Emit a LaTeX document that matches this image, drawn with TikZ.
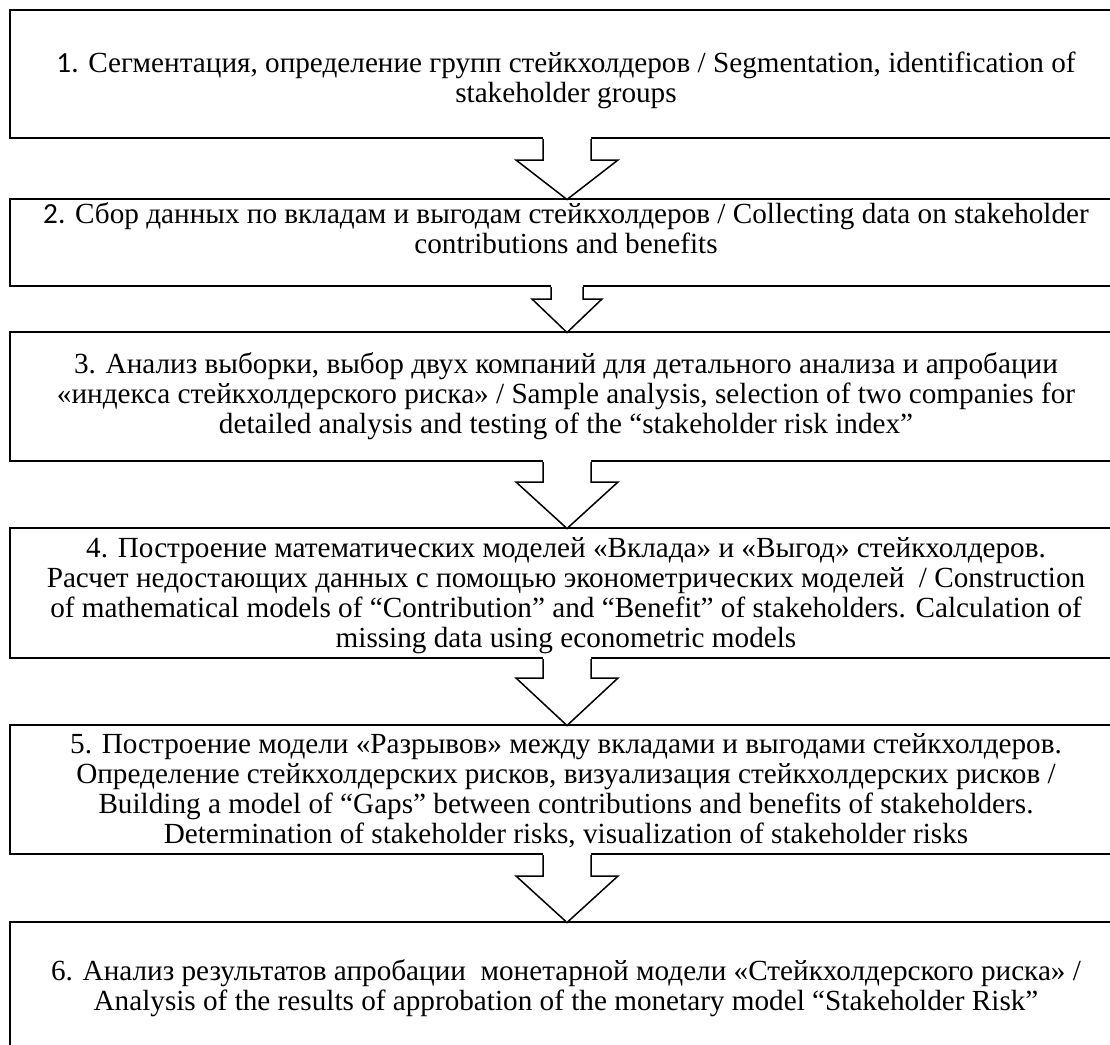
\documentclass[tikz,border=0pt]{standalone}
\usepackage{fontspec}
\setmainfont{Liberation Serif}
\newfontfamily\numfont{Carlito}
\usetikzlibrary{calc}
\tikzset{
  stepbox/.style={draw=black, line width=1pt, fill=white, minimum width=557pt, inner sep=0pt},
  steptext/.style={align=center, inner sep=0pt, font=\fontsize{14.6}{15}\selectfont},
  arrline/.style={draw=black, line width=0.75pt, line join=miter}
}
\newcommand{\blockarr}[5]{%
  \coordinate (#1-#2-s) at (#1.south);
  \coordinate (#1-#2-t) at ($(#2.north)+(0,1.5)$);
  \fill[white] ($(#1-#2-s)+(-#3,-3)$) -- ($(#1-#2-s)+(-#3,#5)$) -- ($(#1-#2-s)+(-#4,#5)$) -- (#1-#2-t) -- ($(#1-#2-s)+(#4,#5)$) -- ($(#1-#2-s)+(#3,#5)$) -- ($(#1-#2-s)+(#3,-3)$) -- cycle;
  \draw[arrline] ($(#1-#2-s)+(-#3,0)$) -- ($(#1-#2-s)+(-#3,#5)$) -- ($(#1-#2-s)+(-#4,#5)$) -- (#1-#2-t) -- ($(#1-#2-s)+(#4,#5)$) -- ($(#1-#2-s)+(#3,#5)$) -- ($(#1-#2-s)+(#3,0)$);
}
\begin{document}
\begin{tikzpicture}[x=0.5pt, y=-0.5pt]
\fill[white] (0,0) rectangle (1110,1045);
\useasboundingbox (0,0) rectangle (1110,1045);
\clip (0,0) rectangle (1110,1045);
% boxes
\node[stepbox, minimum height=64pt] (b1) at (567,74) {};
\node[stepbox, minimum height=43.5pt] (b2) at (567,242.5) {};
\node[stepbox, minimum height=64.5pt] (b3) at (567,396.5) {};
\node[stepbox, minimum height=65pt] (b4) at (567,593) {};
\node[stepbox, minimum height=64.5pt] (b5) at (567,789.5) {};
\node[stepbox, minimum height=100pt] (b6) at (567,1022) {};
% texts
\node[steptext] (t1) at (566,80) {{\numfont 1.} Сегментация, определение групп стейкхолдеров / Segmentation, identification of\\ stakeholder groups};
\node[steptext] (t2) at (566,228) {{\numfont 2.} Сбор данных по вкладам и выгодам стейкхолдеров / Collecting data on stakeholder\\ contributions and benefits};
\node[steptext] (t3) at (566,396) {3. Анализ выборки, выбор двух компаний для детального анализа и апробации\\ «индекса стейкхолдерского риска» / Sample analysis, selection of two companies for\\ detailed analysis and testing of the “stakeholder risk index”};
\node[steptext] (t4) at (566,596) {4. Построение математических моделей «Вклада» и «Выгод» стейкхолдеров.\\ Расчет недостающих данных с помощью эконометрических моделей\ \ / Construction\\ of mathematical models of “Contribution” and “Benefit” of stakeholders. Calculation of\\ missing data using econometric models};
\node[steptext] (t5) at (566,791) {5. Построение модели «Разрывов» между вкладами и выгодами стейкхолдеров.\\ Определение стейкхолдерских рисков, визуализация стейкхолдерских рисков /\\ Building a model of “Gaps” between contributions and benefits of stakeholders.\\ Determination of stakeholder risks, visualization of stakeholder risks};
\node[steptext] (t6) at (566,988) {6. Анализ результатов апробации\ \ монетарной модели «Стейкхолдерского риска» /\\ Analysis of the results of approbation of the monetary model “Stakeholder Risk”};
% block arrows
\blockarr{b1}{b2}{24}{51}{21}
\blockarr{b2}{b3}{16}{35}{12}
\blockarr{b3}{b4}{24}{51}{20}
\blockarr{b4}{b5}{24}{51}{19}
\blockarr{b5}{b6}{24}{51}{21}
\end{tikzpicture}
\end{document}
